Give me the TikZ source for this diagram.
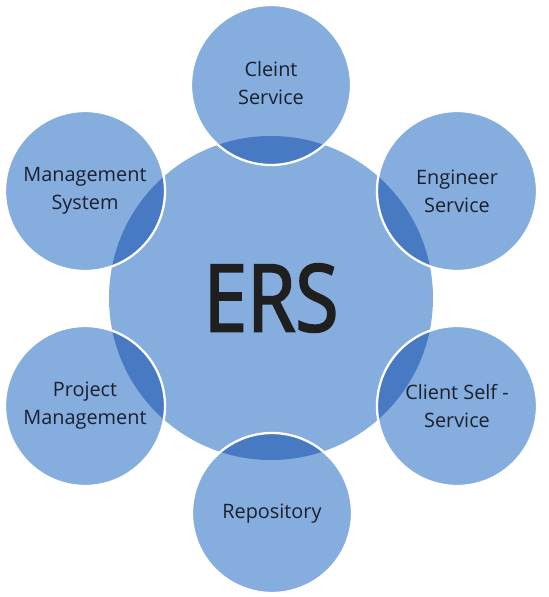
\documentclass[tikz,border=0pt]{standalone}
\usepackage{fontspec}
\setmainfont{Open Sans}
\newfontfamily\ersfont[FakeStretch=0.84,FakeBold=2.2]{Open Sans}
\definecolor{ersblue}{RGB}{133,173,222}
\definecolor{ersdark}{RGB}{72,122,196}
\definecolor{erstext}{RGB}{28,32,46}

\begin{document}
\begin{tikzpicture}[x=0.02cm,y=-0.02cm,
    label/.style={text=erstext,align=center,font=\fontsize{11.3}{16}\selectfont}]
    \useasboundingbox (0,0) rectangle (548,597);
    \fill[ersblue] (271,298) circle (162);
    \foreach \x/\y in {271/85,457/191,457/406,272/513,85/406,85/191}
    {
    \fill[ersblue] (\x,\y) circle (80);
    \begin{scope}
    \clip (271,298) circle (162);
    \fill[ersdark] (\x,\y) circle (80);
    \end{scope}
    \draw[white,line width=1.3pt] (\x,\y) circle (80);
    }
    \node[text=black!88,font=\ersfont\fontsize{53}{53}\selectfont] (ers) at (271,298) {ERS};
    \node[label] (client) at (271,83) {Cleint\\Service};
    \node[label] (engineer) at (457,191) {Engineer\\Service};
    \node[label] (selfservice) at (457,406) {Client Self -\\Service};
    \node[label] (repository) at (272,514) {Repository};
    \node[label] (project) at (85,406) {Project\\Management};
    \node[label] (management) at (85,191) {Management\\System};
\end{tikzpicture}
\end{document}
